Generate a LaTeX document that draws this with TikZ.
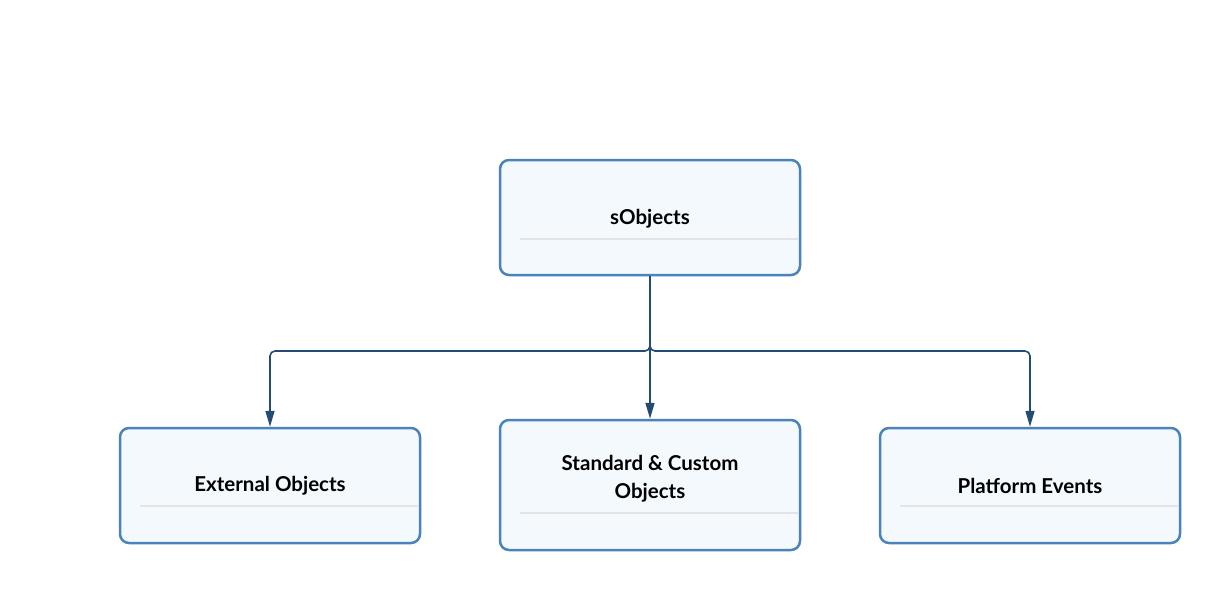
\documentclass[tikz,border=0pt]{standalone}
\usepackage{fontspec}
\setmainfont{Lato}
\usetikzlibrary{arrows.meta}
\definecolor{boxborder}{HTML}{4A83B9}
\definecolor{boxfill}{HTML}{F4F9FE}
\definecolor{sepgrey}{HTML}{E2E4E6}
\definecolor{linkblue}{HTML}{234B73}
\tikzset{
  objbox/.style={draw=boxborder, fill=boxfill, line width=2.5pt, rounded corners=9pt,
    minimum width=300pt, inner sep=0pt},
  sep/.style={draw=sepgrey, line width=2pt},
  lbl/.style={font=\fontsize{20.5}{28}\selectfont\bfseries, align=center, text=black},
  link/.style={draw=linkblue, line width=1.6pt, rounded corners=5pt,
    -{Triangle[length=16pt,width=9pt]}}
}
\begin{document}
\begin{tikzpicture}[x=1pt,y=-1pt]
\useasboundingbox (0,0) rectangle (1220,590);
% boxes
\node[objbox, minimum height=115pt] (sobj) at (650,217.5) {};
\node[objbox, minimum height=115pt] (ext) at (270,485.5) {};
\node[objbox, minimum height=130pt] (std) at (650,485) {};
\node[objbox, minimum height=115pt] (plat) at (1030,485.5) {};
% separators
\draw[sep] (520,239) -- (798.7,239);
\draw[sep] (140,506) -- (418.7,506);
\draw[sep] (520,513) -- (798.7,513);
\draw[sep] (900,506) -- (1178.7,506);
% labels
\node[lbl] (sobjt) at (650,219) {sObjects};
\node[lbl] (extt) at (270,486) {External Objects};
\node[lbl] (stdt) at (650,479) {Standard \& Custom\\Objects};
\node[lbl] (platt) at (1030,486) {Platform Events};
% connectors
\coordinate (j) at (650,351);
\draw[link] (sobj.south) -- (j) -| (ext.north);
\draw[link] (sobj.south) -- (j) -| (plat.north);
\draw[link] (sobj.south) -- (std.north);
\end{tikzpicture}
\end{document}
